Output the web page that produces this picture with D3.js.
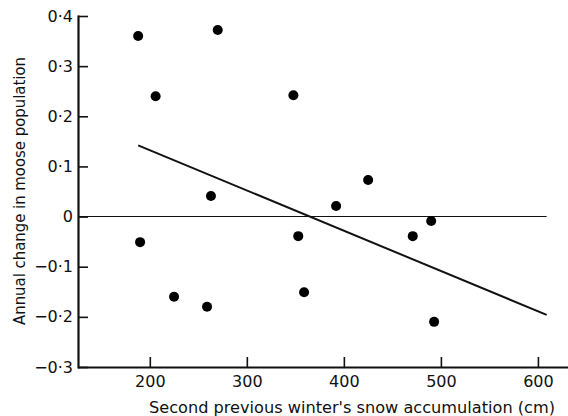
<!DOCTYPE html>
<html>
<head>
<meta charset="utf-8">
<script src="https://cdn.jsdelivr.net/npm/d3@7"></script>
<style>
  body { margin: 0; background: #fff; }
  text { font-family: "DejaVu Sans", sans-serif; fill: #111; }
</style>
</head>
<body>
<svg width="568" height="416"></svg>
<script>
// snow accumulation (cm) two winters back vs annual change in moose numbers
const snow = [188, 206, 270, 348, 263, 392, 425, 353, 471, 490, 359, 190, 225, 259, 493];
const change = [0.36, 0.24, 0.372, 0.242, 0.041, 0.021, 0.073, -0.039, -0.039, -0.009, -0.151, -0.051, -0.16, -0.18, -0.21];

const trendX = [188, 609];
const trendY = [0.142, -0.196];

const xTicks = [200, 300, 400, 500, 600];
const yTicks = [0.4, 0.3, 0.2, 0.1, 0, -0.1, -0.2, -0.3];

const svg = d3.select("svg");

const x = d3.scaleLinear().domain([126, 631]).range([78, 568]);
const y = d3.scaleLinear().domain([-0.3, 0.4]).range([367, 16]);

// label like the printed figure: 0·4, −0·3
const fmtY = d => d === 0 ? "0" : (d < 0 ? "\u2212" : "") + Math.abs(d).toFixed(1).replace(".", "\u00b7");

const xAxis = svg.append("g")
    .attr("transform", `translate(0,${y(-0.3)})`)
    .call(d3.axisBottom(x).tickValues(xTicks).tickSizeInner(-10).tickSizeOuter(0).tickPadding(9));

const yAxis = svg.append("g")
    .attr("transform", `translate(${x(126)},0)`)
    .call(d3.axisLeft(y).tickValues(yTicks).tickFormat(fmtY).tickSizeInner(-10).tickSizeOuter(0).tickPadding(5));

[xAxis, yAxis].forEach(g => {
    g.select(".domain").attr("stroke", "#111").attr("stroke-width", 2.2);
    g.selectAll(".tick line").attr("stroke", "#111").attr("stroke-width", 1.6);
    g.selectAll(".tick text")
        .attr("font-family", "DejaVu Sans, sans-serif")
        .attr("font-size", 16)
        .attr("fill", "#111");
});
// tick at 0.4 also caps the axis
yAxis.select(".domain").attr("stroke-linecap", "square");

// zero reference line
svg.append("line")
    .attr("x1", x(126)).attr("x2", x(609))
    .attr("y1", y(0)).attr("y2", y(0))
    .attr("stroke", "#111")
    .attr("stroke-width", 1.1);

// regression line
svg.append("line")
    .attr("x1", x(trendX[0])).attr("y1", y(trendY[0]))
    .attr("x2", x(trendX[1])).attr("y2", y(trendY[1]))
    .attr("stroke", "#111")
    .attr("stroke-width", 2);

svg.append("g")
    .selectAll("circle")
    .data(snow)
    .enter().append("circle")
    .attr("cx", d => x(d))
    .attr("cy", (d, i) => y(change[i]))
    .attr("r", 5)
    .attr("fill", "#000");

svg.append("text")
    .attr("x", 352)
    .attr("y", 413)
    .attr("text-anchor", "middle")
    .attr("font-size", 15)
    .attr("textLength", 406)
    .attr("lengthAdjust", "spacingAndGlyphs")
    .text("Second previous winter's snow accumulation (cm)");

svg.append("text")
    .attr("transform", "translate(25,191) rotate(-90)")
    .attr("text-anchor", "middle")
    .attr("font-size", 15)
    .attr("textLength", 268)
    .attr("lengthAdjust", "spacingAndGlyphs")
    .text("Annual change in moose population");
</script>
</body>
</html>
